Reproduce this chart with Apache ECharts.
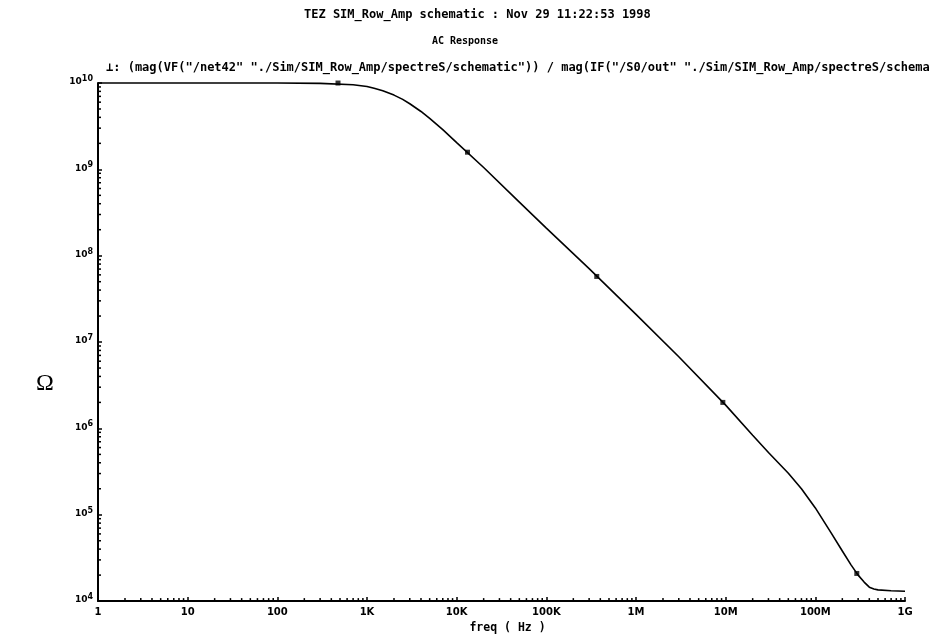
<!DOCTYPE html>
<html>
<head>
<meta charset="utf-8">
<script src="https://cdn.jsdelivr.net/npm/echarts@6/dist/echarts.min.js"></script>
<style>html,body{margin:0;padding:0;background:#fff}#c{width:930px;height:639px}</style>
</head>
<body>
<div id="c"></div>
<script>
// ---- data ----
const titleText = 'TEZ SIM_Row_Amp schematic : Nov 29 11:22:53 1998';
const subtitleText = 'AC Response';
const legendText = '\u22a5: (mag(VF("/net42" "./Sim/SIM_Row_Amp/spectreS/schematic")) / mag(IF("/S0/out" "./Sim/SIM_Row_Amp/spectreS/schematic"))';
const xAxisName = 'freq ( Hz )';
const unitText = '\u03a9';

const freqHz = [1, 10, 100, 300, 700, 1000, 1200, 1500, 2000, 2500, 3000, 4000, 5000, 7000, 1e4, 2e4, 5e4, 1e5, 3e5, 1e6, 3e6, 1e7, 2e7, 3e7, 5e7, 7e7, 1e8, 1.5e8, 2e8, 2.5e8, 3e8, 3.5e8, 4e8, 4.5e8, 5e8, 7e8, 1e9];
const impedance = [1e10, 1e10, 1e10, 9.89e9, 9.55e9, 9.12e9, 8.71e9, 8.13e9, 7.24e9, 6.46e9, 5.75e9, 4.68e9, 3.89e9, 2.88e9, 2.04e9, 1.05e9, 4.17e8, 2.09e8, 7.08e7, 2.09e7, 6.76e6, 1.86e6, 8.32e5, 5.25e5, 3.02e5, 2.00e5, 1.20e5, 6.17e4, 3.80e4, 2.63e4, 2.00e4, 1.66e4, 1.45e4, 1.38e4, 1.35e4, 1.32e4, 1.30e4];

const markerFreq = [475, 1.32e4, 3.65e5, 9.3e6, 2.9e8];
const markerImp = [9.99e9, 1.58e9, 5.75e7, 2.0e6, 2.09e4];

const xTickLabels = {1: '1', 10: '10', 100: '100', 1000: '1K', 1e4: '10K', 1e5: '100K', 1e6: '1M', 1e7: '10M', 1e8: '100M', 1e9: '1G'};
const xMin = 1, xMax = 1e9, yMin = 1e4, yMax = 1e10;

// minor tick positions (2..9 per decade)
const xMinorTicks = [];
for (let d = 1; d < xMax; d *= 10) for (let m = 2; m <= 9; m++) xMinorTicks.push(d * m);
const yMinorTicks = [];
for (let d = yMin; d < yMax; d *= 10) for (let m = 2; m <= 9; m++) yMinorTicks.push(d * m);

const lineData = freqHz.map((f, i) => [f, impedance[i]]);
const markerData = markerFreq.map((f, i) => [f, markerImp[i]]);

const FONT = 'DejaVu Sans';
const MONO = 'DejaVu Sans Mono';
const chart = echarts.init(document.getElementById('c'));
chart.setOption({
  backgroundColor: '#fff',
  animation: false,
  grid: {left: 98, right: 25, top: 83, bottom: 34, containLabel: false},
  xAxis: {
    type: 'log', logBase: 10, min: xMin, max: xMax,
    splitLine: {show: false},
    axisLine: {show: true, onZero: false, lineStyle: {color: '#000', width: 2}},
    axisTick: {show: true, inside: true, length: 4, lineStyle: {color: '#000', width: 1.5}},
    axisLabel: {
      color: '#000', fontFamily: FONT, fontWeight: 'bold', fontSize: 10, margin: 6,
      formatter: v => xTickLabels[Math.round(v)] || ''
    },
    name: xAxisName, nameLocation: 'middle', nameGap: 19,
    nameTextStyle: {color: '#000', fontFamily: MONO, fontWeight: 'bold', fontSize: 11.5, padding: [0, 0, 0, 12]}
  },
  yAxis: {
    type: 'log', logBase: 10, min: yMin, max: yMax,
    splitLine: {show: false},
    axisLine: {show: true, onZero: false, lineStyle: {color: '#000', width: 2}},
    axisTick: {show: true, inside: true, length: 4, lineStyle: {color: '#000', width: 1.5}},
    axisLabel: {
      color: '#000', margin: 5, padding: [0, 0, 2, 0],
      formatter: v => '{b|10}{s|' + Math.round(Math.log10(v)) + '}',
      rich: {
        b: {fontFamily: FONT, fontWeight: 'bold', fontSize: 9, color: '#000'},
        s: {fontFamily: FONT, fontWeight: 'bold', fontSize: 8, color: '#000', padding: [0, 0, 6, 0]}
      }
    }
  },
  graphic: [
    {type: 'text', left: 304, top: 9, style: {text: titleText, font: 'bold 12px "' + MONO + '"', fill: '#000'}},
    {type: 'text', left: 'center', top: 36, style: {text: subtitleText, font: 'bold 10px "' + MONO + '"', fill: '#000'}},
    {type: 'text', left: 106, top: 62, style: {text: legendText, font: 'bold 12px "' + MONO + '"', fill: '#000'}},
    {type: 'text', left: 36, top: 372, style: {text: unitText, font: '24px "Liberation Serif"', fill: '#000'}}
  ],
  series: [
    {
      type: 'line', data: lineData, showSymbol: false, smooth: false, clip: false,
      lineStyle: {color: '#000', width: 1.6}, silent: true
    },
    {
      type: 'scatter', data: markerData, symbol: 'rect', symbolSize: 5,
      itemStyle: {color: '#000'}, silent: true
    },
    {
      type: 'custom', data: xMinorTicks.map(v => [v, yMin]), silent: true, clip: false,
      renderItem: (params, api) => {
        const p = api.coord([api.value(0), api.value(1)]);
        return {type: 'line', shape: {x1: p[0], y1: p[1], x2: p[0], y2: p[1] - 3}, style: {stroke: '#000', lineWidth: 1.5}};
      }
    },
    {
      type: 'custom', data: yMinorTicks.map(v => [xMin, v]), silent: true, clip: false,
      renderItem: (params, api) => {
        const p = api.coord([api.value(0), api.value(1)]);
        return {type: 'line', shape: {x1: p[0], y1: p[1], x2: p[0] + 3, y2: p[1]}, style: {stroke: '#000', lineWidth: 1.5}};
      }
    }
  ]
});
</script>
</body>
</html>
